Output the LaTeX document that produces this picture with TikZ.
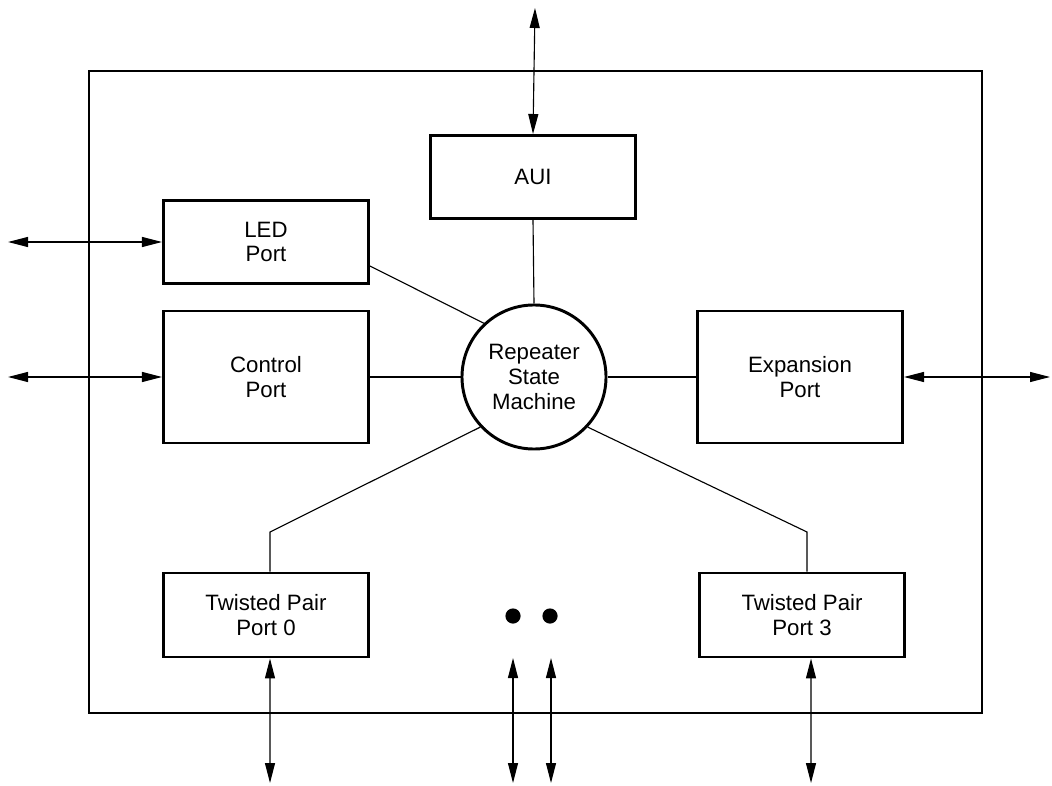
\documentclass[tikz,border=0pt]{standalone}
\usepackage{fontspec}
\setmainfont{Liberation Sans}
\usetikzlibrary{arrows.meta, positioning}

\begin{document}
\begin{tikzpicture}[x=0.025cm, y=0.025cm,
    block/.style={draw, line width=2.1pt, minimum width=5.125cm, align=center, inner sep=0pt, font=\fontsize{15.8}{17.5}\selectfont},
    link/.style={line width=0.8pt},
    io/.style={line width=0.8pt, {Triangle[length=0.5cm,width=0.25cm]}-{Triangle[length=0.5cm,width=0.25cm]}},
    dot/.style={circle, fill, minimum size=0.38cm, inner sep=0pt}]
    \useasboundingbox (0,0) rectangle (1052,785);

    % chip outline
    \draw[line width=2.1pt] (89,72) rectangle (982,714);

    % blocks inside the chip
    \node[block, minimum height=2.075cm] (aui) at (533,608) {AUI};
    \node[block, minimum height=2.075cm] (led) at (266,543) {LED\\Port};
    \node[block, minimum height=3.3cm] (ctrl) at (266,408) {Control\\Port};
    \node[block, minimum height=3.3cm] (exp) at (800,408) {Expansion\\Port};
    \node[block, minimum height=2.1cm] (tp0) at (266,170) {Twisted Pair\\Port 0};
    \node[block, minimum height=2.1cm] (tp3) at (802,170) {Twisted Pair\\Port 3};
    \node[block, circle, minimum size=3.6cm, minimum width=3.6cm] (rsm) at (534,408) {Repeater\\State\\Machine};
    \node[dot] (dot1) at (513,169) {};
    \node[dot] (dot2) at (550,169) {};

    % lines to the state machine
    \draw[link] (aui.south) -- (rsm.north);
    \draw[link] ([yshift=-0.6cm]led.east) -- (rsm.133);
    \draw[link] (ctrl.east) -- (rsm.west);
    \draw[link] (exp.west) -- (rsm.east);
    \coordinate (bendl) at (270,253);
    \coordinate (bendr) at (807,253);
    \draw[link] (rsm.223) -- (bendl) -- ([xshift=0.1cm]tp0.north);
    \draw[link] (rsm.317) -- (bendr) -- ([xshift=0.125cm]tp3.north);

    % outside connections
    \coordinate (auiout) at (535,777);
    \coordinate (ledout) at (8,543);
    \coordinate (ctrlout) at (8,408);
    \coordinate (expout) at (1050,408);
    \coordinate (tp0out) at (270,2);
    \coordinate (tp3out) at (811,2);
    \coordinate (midin1) at (513,127);
    \coordinate (midout1) at (513,2);
    \coordinate (midin2) at (551,127);
    \coordinate (midout2) at (551,2);
    \draw[io] (auiout) -- (aui.north);
    \draw[io] (ledout) -- (led.west);
    \draw[io] (ctrlout) -- (ctrl.west);
    \draw[io] (exp.east) -- (expout);
    \draw[io] ([xshift=0.1cm]tp0.south) -- (tp0out);
    \draw[io] ([xshift=0.225cm]tp3.south) -- (tp3out);
    \draw[io] (midin1) -- (midout1);
    \draw[io] (midin2) -- (midout2);
\end{tikzpicture}
\end{document}
